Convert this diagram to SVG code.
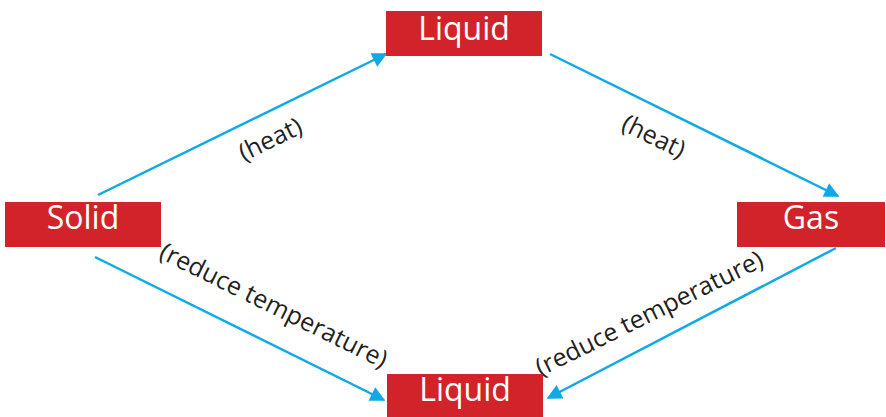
<svg xmlns="http://www.w3.org/2000/svg" width="886" height="417" viewBox="0 0 886 417">
<defs>
<style>
.box{fill:#d2232a}
.nt{fill:#fff;font-family:"Open Sans","Liberation Sans",sans-serif;font-size:32px;text-anchor:middle}
.lt{fill:#231f20;font-family:"Open Sans","Liberation Sans",sans-serif;font-size:25px;text-anchor:middle}
.ln{stroke:#0faae6;stroke-width:2.5;fill:none;marker-end:url(#ah)}
</style>
<marker id="ah" viewBox="0 0 10 10" refX="9" refY="5" markerWidth="7" markerHeight="6" markerUnits="strokeWidth" orient="auto">
<path d="M0,0 L10,5 L0,10 z" fill="#0faae6"/>
</marker>
</defs>
<rect width="886" height="417" fill="#fff"/>
<g id="connectors">
<line class="ln" x1="98" y1="195" x2="386" y2="54"/>
<line class="ln" x1="550" y1="54" x2="838" y2="196"/>
<line class="ln" x1="95" y1="257" x2="384" y2="400"/>
<line class="ln" x1="836" y1="248" x2="548" y2="398"/>
<text class="lt" transform="translate(274,147) rotate(-26)">(heat)</text>
<text class="lt" transform="translate(650,144) rotate(26)">(heat)</text>
<text class="lt" transform="translate(270,313) rotate(26.3)">(reduce temperature)</text>
<text class="lt" transform="translate(653,321) rotate(-26.3)">(reduce temperature)</text>
</g>
<g id="liquid-top">
<rect class="box" x="386" y="11" width="156" height="45"/>
<text class="nt" x="464" y="40">Liquid</text>
</g>
<g id="solid">
<rect class="box" x="5" y="202" width="156" height="45"/>
<text class="nt" x="83" y="229">Solid</text>
</g>
<g id="gas">
<rect class="box" x="737" y="202" width="148" height="45"/>
<text class="nt" x="811" y="229">Gas</text>
</g>
<g id="liquid-bottom">
<rect class="box" x="387" y="374" width="156" height="43"/>
<text class="nt" x="465" y="401">Liquid</text>
</g>
</svg>
